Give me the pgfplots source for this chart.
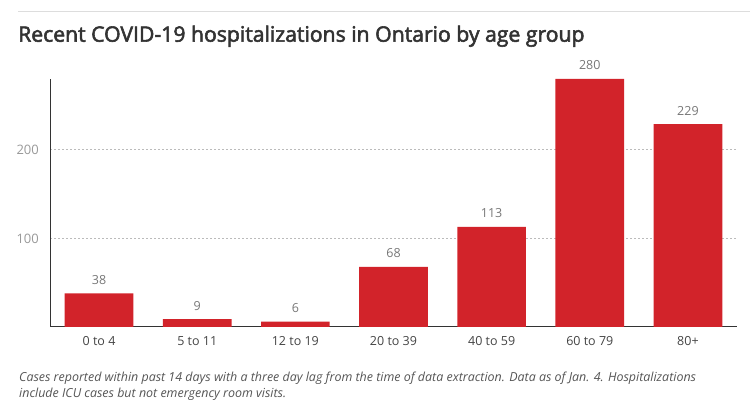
\documentclass[border=0pt]{standalone}
\usepackage{fontspec}
\setmainfont{Open Sans}
\newfontfamily\titlefont{Open Sans}[FakeBold=2.6]
\usepackage{pgfplots}
\pgfplotsset{compat=1.18}
\definecolor{barred}{HTML}{D2232A}
\definecolor{axisgray}{HTML}{333333}
\definecolor{gridgray}{HTML}{BBBBBB}
\definecolor{ticklab}{HTML}{999999}
\definecolor{xlab}{HTML}{444444}
\definecolor{vallab}{HTML}{777777}
\definecolor{titlecol}{HTML}{333333}
\definecolor{notecol}{HTML}{555555}
\definecolor{rulecol}{HTML}{DDDDDD}
\begin{document}
\begin{tikzpicture}
\useasboundingbox (0,0) rectangle (752bp,406bp);
\draw[draw=rulecol, line width=1bp] (18bp,394bp) -- (750bp,394bp);
\node[anchor=base west, inner sep=0, text=titlecol, font=\fontsize{21.2bp}{25bp}\titlefont] at (18bp,364.3bp) {Recent COVID-19 hospitalizations in Ontario by age group};
\begin{axis}[
  at={(50bp,79bp)}, anchor=south west,
  scale only axis, width=687bp, height=248bp,
  xmin=-0.5, xmax=6.5, ymin=0, ymax=280,
  axis x line=bottom, axis y line=left,
  axis line style={-, draw=axisgray, line width=1bp},
  xtick={0,1,2,3,4,5,6},
  xticklabels={0 to 4,5 to 11,12 to 19,20 to 39,40 to 59,60 to 79,80+},
  ytick={100,200},
  major tick length=0pt,
  ymajorgrids,
  grid style={draw=gridgray, line width=0.75bp, dash pattern=on 2bp off 2bp},
  xticklabel style={anchor=base, yshift=-19bp, inner sep=0pt, text=xlab, font=\fontsize{12.5bp}{15bp}\selectfont},
  yticklabel style={anchor=east, inner sep=0pt, xshift=-11bp, text=ticklab, font=\fontsize{13bp}{15bp}\selectfont},
  /pgf/number format/assume math mode=true,
  clip=false,
  ybar, bar width=0.7, bar shift=0pt,
  nodes near coords,
  every node near coord/.append style={anchor=base, yshift=9bp, inner sep=0pt, text=vallab, font=\fontsize{12.5bp}{15bp}\selectfont},
]
\addplot[fill=barred, draw=none] coordinates {(0,38) (1,9) (2,6) (3,68) (4,113) (5,280) (6,229)};
\end{axis}
\node[anchor=base west, inner sep=0, text=notecol, font=\fontsize{12.45bp}{16bp}\selectfont\itshape] at (19bp,24.3bp) {Cases reported within past 14 days with a three day lag from the time of data extraction. Data as of Jan. 4. Hospitalizations};
\node[anchor=base west, inner sep=0, text=notecol, font=\fontsize{12.45bp}{16bp}\selectfont\itshape] at (19bp,9bp) {include ICU cases but not emergency room visits.};
\end{tikzpicture}
\end{document}
